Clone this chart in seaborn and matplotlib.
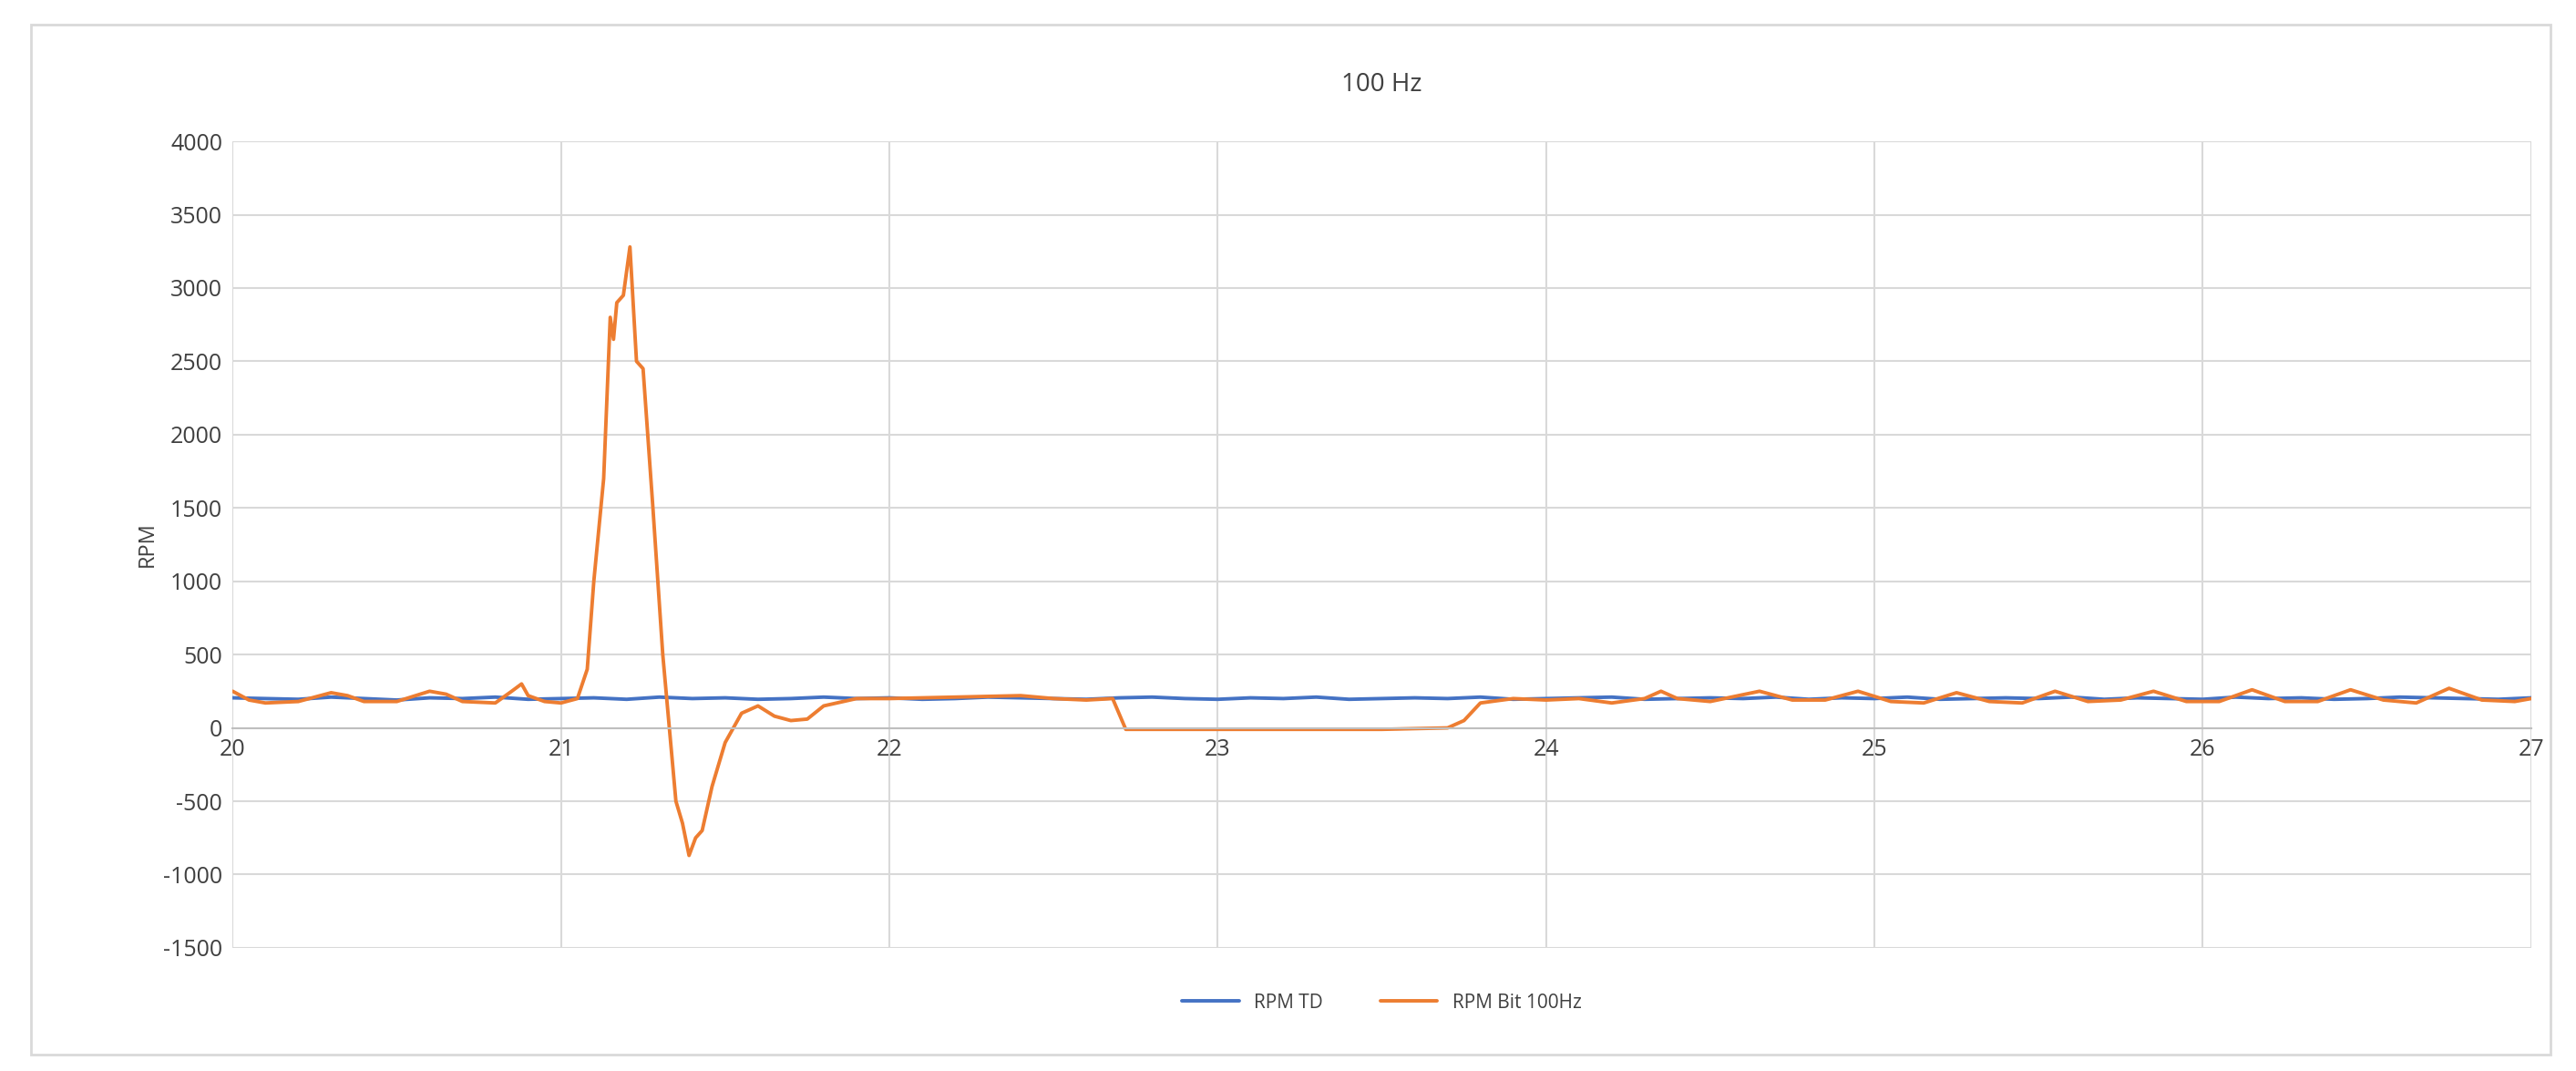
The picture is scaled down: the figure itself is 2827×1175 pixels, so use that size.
import matplotlib
matplotlib.use("Agg")
import matplotlib.pyplot as plt
import seaborn as sns
import pandas as pd
from matplotlib.patches import Rectangle

title = "100 Hz"
ylabel = "RPM"
series_names = ["RPM TD", "RPM Bit 100Hz"]

td_t = [20 + i * 0.1 for i in range(71)]
td_v = [205, 200, 195, 210, 200, 190, 205, 200, 210, 195, 200, 205, 195, 210, 200, 205, 195, 200, 210, 200,
        205, 195, 200, 210, 205, 200, 195, 205, 210, 200, 195, 205, 200, 210, 195, 200, 205, 200, 210, 195,
        200, 205, 210, 195, 200, 205, 200, 210, 195, 205, 200, 210, 195, 200, 205, 200, 210, 195, 205, 200,
        195, 210, 200, 205, 195, 200, 210, 205, 200, 195, 205]

bit_t = [20.0, 20.05, 20.1, 20.2, 20.3, 20.35, 20.4, 20.5, 20.6, 20.65, 20.7, 20.8, 20.85, 20.88, 20.9, 20.95,
         21.0, 21.05, 21.08, 21.1, 21.13, 21.15, 21.16, 21.17, 21.19, 21.21, 21.23, 21.25, 21.28, 21.31, 21.33,
         21.35, 21.37, 21.39, 21.41, 21.43, 21.46, 21.5, 21.55, 21.6, 21.65, 21.7, 21.75, 21.8, 21.9, 22.0, 22.2,
         22.4, 22.5, 22.6, 22.68, 22.72, 23.0, 23.5, 23.7, 23.75, 23.8, 23.9, 24.0, 24.1, 24.2, 24.3, 24.35, 24.4,
         24.5, 24.65, 24.75, 24.85, 24.95, 25.05, 25.15, 25.25, 25.35, 25.45, 25.55, 25.65, 25.75, 25.85, 25.95,
         26.05, 26.15, 26.25, 26.35, 26.45, 26.55, 26.65, 26.75, 26.85, 26.95, 27.0]
bit_v = [250, 190, 170, 180, 240, 220, 180, 180, 250, 230, 180, 170, 250, 300, 220, 180,
         170, 200, 400, 1000, 1700, 2800, 2650, 2900, 2950, 3280, 2500, 2450, 1500, 500, 0,
         -500, -650, -870, -750, -700, -400, -100, 100, 150, 80, 50, 60, 150, 200, 200, 210,
         220, 200, 190, 200, -10, -10, -10, 0, 50, 170, 200, 190, 200, 170, 200, 250, 200,
         180, 250, 190, 190, 250, 180, 170, 240, 180, 170, 250, 180, 190, 250, 180,
         180, 260, 180, 180, 260, 190, 170, 270, 190, 180, 200]

df = pd.concat([
    pd.DataFrame({"t": td_t, "v": td_v, "s": series_names[0]}),
    pd.DataFrame({"t": bit_t, "v": bit_v, "s": series_names[1]}),
])

sns.set_theme(style="white")
plt.rcParams["font.family"] = ["Open Sans", "DejaVu Sans"]
plt.rcParams["axes.unicode_minus"] = False
fig = plt.figure(figsize=(28.27, 11.75), dpi=100)
fig.patches.append(Rectangle((0.012, 0.015), 0.978, 0.962, transform=fig.transFigure,
                             fill=False, edgecolor="#d9d9d9", linewidth=2))
ax = fig.add_axes([0.0903, 0.115, 0.8923, 0.753])
sns.lineplot(data=df, x="t", y="v", hue="s", palette=["#4472c4", "#ed7d31"],
             linewidth=2.8, ax=ax, sort=False, estimator=None)
ax.set_xlim(20, 27)
ax.set_ylim(-1500, 4000)
ax.set_yticks(range(-1500, 4001, 500))
ax.set_xticks(range(20, 28))
ax.grid(True, color="#d9d9d9", linewidth=1.5)
for s in ["top", "right", "left"]:
    ax.spines[s].set_visible(False)
ax.spines["bottom"].set_position(("data", 0))
ax.spines["bottom"].set_color("#bfbfbf")
ax.spines["bottom"].set_linewidth(1.5)
ax.tick_params(axis="both", length=0, labelsize=18, colors="#404040", pad=8)
ax.set_xlabel("")
ax.set_ylabel(ylabel, fontsize=17, color="#404040")
ax.set_title(title, fontsize=20, color="#404040", pad=40)
ax.legend(loc="upper center", bbox_to_anchor=(0.5, -0.035), ncol=2, frameon=False,
          fontsize=15, labelcolor="#404040", handlelength=3, columnspacing=3)
fig.savefig("out.png", dpi=100)
